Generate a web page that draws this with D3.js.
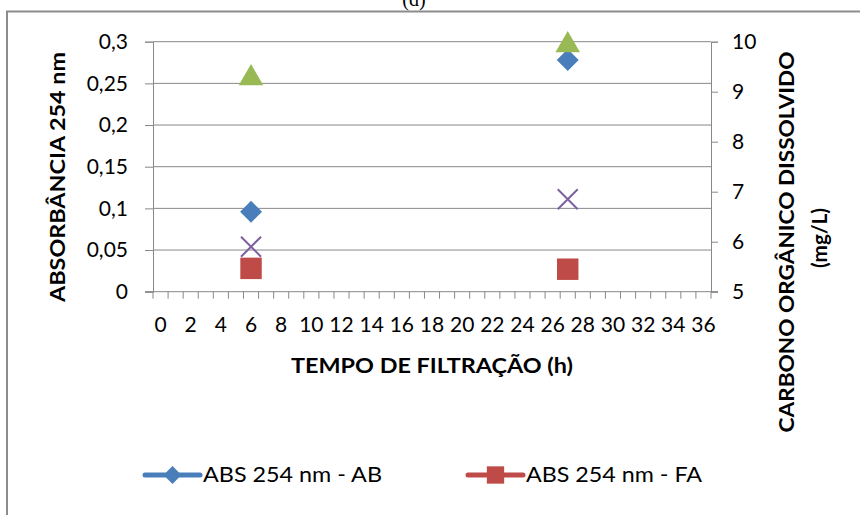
<!DOCTYPE html>
<html>
<head>
<meta charset="utf-8">
<script src="https://cdn.jsdelivr.net/npm/d3@7"></script>
<style>
  body { margin: 0; background: #fff; }
  text { font-family: Lato, "Open Sans", sans-serif; fill: #000; }
</style>
</head>
<body>
<div id="chart"></div>
<script>
// categories on the x axis (hours)
var hours = d3.range(0, 37);
var hourLabels = hours.filter(function(h) { return h % 2 === 0; });

// left axis series (absorbance)
var absAB = [{h: 6, v: 0.096}, {h: 27, v: 0.278}];
var absFA = [{h: 6, v: 0.028}, {h: 27, v: 0.027}];
// right axis series (COD, mg/L)
var codAB = [{h: 6, v: 9.27}, {h: 27, v: 9.93}];
var codFA = [{h: 6, v: 5.9}, {h: 27, v: 6.85}];

var leftTicks = [0, 0.05, 0.1, 0.15, 0.2, 0.25, 0.3];
var leftTickLabels = ["0", "0,05", "0,1", "0,15", "0,2", "0,25", "0,3"];
var rightTicks = [5, 6, 7, 8, 9, 10];

var legendItems = [
  {name: "ABS 254 nm - AB", color: "#4a7ebb", shape: "diamond", len: 179},
  {name: "ABS 254 nm - FA", color: "#be4b48", shape: "square", len: 176}
];

var W = 860, H = 515;
var plot = {left: 153, right: 711, top: 41.7, bottom: 291.7};
var gridCol = "#888888";

var svg = d3.select("#chart").append("svg")
    .attr("width", W)
    .attr("height", H);

// outer frame (only top and left visible in the crop)
svg.append("path")
    .attr("d", "M7," + H + "V11.5H" + W)
    .attr("fill", "none")
    .attr("stroke", "#8c8c8c")
    .attr("stroke-width", 2);

svg.append("text")
    .attr("x", 414).attr("y", 6)
    .attr("text-anchor", "middle")
    .style("font-family", "'Liberation Serif', serif")
    .style("font-size", "20px")
    .text("(d)");

var x = d3.scaleBand()
    .domain(hours)
    .range([plot.left, plot.right]);

var y = d3.scaleLinear()
    .domain([0, 0.3])
    .range([plot.bottom, plot.top]);

var y2 = d3.scaleLinear()
    .domain([5, 10])
    .range([plot.bottom, plot.top]);

// gridlines
svg.append("g").selectAll("line")
  .data(leftTicks.slice(1))
  .enter().append("line")
    .attr("x1", plot.left).attr("x2", plot.right)
    .attr("y1", function(d) { return y(d); })
    .attr("y2", function(d) { return y(d); })
    .attr("stroke", gridCol);

// left axis
var gl = svg.append("g")
    .attr("transform", "translate(" + plot.left + ",0)")
    .call(d3.axisLeft(y).tickValues(leftTicks).tickSize(8).tickPadding(17)
      .tickFormat(function(d, i) { return leftTickLabels[i]; }));

// right axis
var gr = svg.append("g")
    .attr("transform", "translate(" + plot.right + ",0)")
    .call(d3.axisRight(y2).tickValues(rightTicks).tickSize(7).tickPadding(14)
      .tickFormat(d3.format("d")));

// bottom axis: ticks on category boundaries, labels on every second category
var gb = svg.append("g")
    .attr("transform", "translate(0," + plot.bottom + ")")
    .call(d3.axisBottom(x).tickValues(hourLabels).tickSize(0).tickPadding(25));
gb.select(".domain").remove();

svg.append("g").selectAll("line")
  .data(hours.concat([null]))
  .enter().append("line")
    .attr("x1", function(d) { return d === null ? plot.right : x(d); })
    .attr("x2", function(d) { return d === null ? plot.right : x(d); })
    .attr("y1", plot.bottom).attr("y2", plot.bottom + 7)
    .attr("stroke", gridCol);

svg.append("line")
    .attr("x1", plot.left - 8).attr("x2", plot.right + 7)
    .attr("y1", plot.bottom).attr("y2", plot.bottom)
    .attr("stroke", gridCol);

[gl, gr, gb].forEach(function(g) {
  g.selectAll(".domain, .tick line").attr("stroke", gridCol);
  g.selectAll("text").style("font-size", "21px").attr("fill", "#000")
    .style("font-family", "Lato, sans-serif");
});

// axis titles
svg.append("text")
    .attr("transform", "translate(65,177) rotate(-90)")
    .attr("text-anchor", "middle")
    .attr("textLength", 250).attr("lengthAdjust", "spacingAndGlyphs")
    .style("font-size", "21px").style("font-weight", "bold")
    .text("ABSORBÂNCIA 254 nm");

svg.append("text")
    .attr("transform", "translate(794,242) rotate(-90)")
    .attr("text-anchor", "middle")
    .attr("textLength", 381).attr("lengthAdjust", "spacingAndGlyphs")
    .style("font-size", "21px").style("font-weight", "bold")
    .text("CARBONO ORGÂNICO DISSOLVIDO");
svg.append("text")
    .attr("transform", "translate(827,238) rotate(-90)")
    .attr("text-anchor", "middle")
    .attr("textLength", 60).attr("lengthAdjust", "spacingAndGlyphs")
    .style("font-size", "21px").style("font-weight", "bold")
    .text("(mg/L)");

svg.append("text")
    .attr("x", 432).attr("y", 373)
    .attr("text-anchor", "middle")
    .attr("textLength", 282).attr("lengthAdjust", "spacingAndGlyphs")
    .style("font-size", "21px").style("font-weight", "bold")
    .text("TEMPO DE FILTRAÇÃO (h)");

// markers
var cx = function(d) { return x(d.h) + x.bandwidth() / 2; };

function drawSymbols(data, scale, shape, size, color, rot) {
  svg.append("g").selectAll("path")
    .data(data)
    .enter().append("path")
      .attr("transform", function(d) {
        return "translate(" + cx(d) + "," + scale(d.v) + ") rotate(" + (rot || 0) + ")";
      })
      .attr("d", d3.symbol().type(shape).size(size))
      .attr("fill", color);
}

drawSymbols(absAB, y, d3.symbolSquare, 240, "#4a7ebb", 45);
drawSymbols(absFA, y, d3.symbolSquare, 460, "#be4b48");
drawSymbols(codAB, y2, d3.symbolTriangle, 260, "#98b954");

svg.append("g").selectAll("path")
  .data(codFA)
  .enter().append("path")
    .attr("transform", function(d) { return "translate(" + cx(d) + "," + y2(d.v) + ")"; })
    .attr("d", "M-10,-10L10,10M-10,10L10,-10")
    .attr("stroke", "#7d60a0")
    .attr("stroke-width", 2);

// legend
var leg = svg.append("g").selectAll("g")
  .data(legendItems)
  .enter().append("g")
    .attr("transform", function(d, i) { return "translate(" + (145 + i * 323) + ",475)"; });
leg.append("line")
    .attr("x1", 0).attr("x2", 55)
    .attr("stroke", function(d) { return d.color; })
    .attr("stroke-width", 5)
    .attr("stroke-linecap", "round");
leg.append("path")
    .attr("transform", function(d) { return "translate(27.5,0) rotate(" + (d.shape === "diamond" ? 45 : 0) + ")"; })
    .attr("d", function(d) { return d3.symbol().type(d3.symbolSquare).size(d.shape === "square" ? 300 : 160)(); })
    .attr("fill", function(d) { return d.color; });
leg.append("text")
    .attr("x", 58).attr("dy", "0.35em")
    .attr("textLength", function(d) { return d.len; })
    .attr("lengthAdjust", "spacingAndGlyphs")
    .style("font-size", "21px")
    .text(function(d) { return d.name; });
</script>
</body>
</html>
